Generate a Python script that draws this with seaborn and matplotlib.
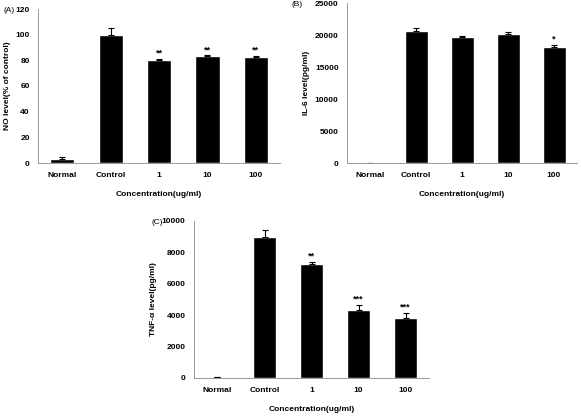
import numpy as np
import pandas as pd
import matplotlib
matplotlib.use("Agg")
import matplotlib.pyplot as plt
import seaborn as sns

categories = ["Normal", "Control", "1", "10", "100"]

no_values = [3, 100, 80.5, 83, 82.5]
no_errors = [2, 5, 0.6, 0.8, 0.6]
no_stars = ["", "", "**", "**", "**"]

il6_values = [0, 20600, 19750, 20100, 18100]
il6_errors = [0, 500, 150, 300, 300]
il6_stars = ["", "", "", "", "*"]

tnf_values = [50, 9000, 7250, 4350, 3800]
tnf_errors = [30, 450, 150, 300, 330]
tnf_stars = ["", "", "**", "***", "***"]

sns.set_theme(style="white")
plt.rcParams['font.family'] = ['Liberation Sans', 'DejaVu Sans']
plt.rcParams['font.weight'] = 'bold'
plt.rcParams['text.color'] = 'black'
plt.rcParams['axes.labelcolor'] = 'black'

W, H = 581, 416
fig = plt.figure(figsize=(W / 100, H / 100), dpi=100)
FS = 6


def px_axes(left, top, right, bottom):
    return fig.add_axes([left / W, 1 - bottom / H, (right - left) / W, (bottom - top) / H])


def panel(ax, values, errors, stars, ylabel, ymax, ystep):
    df = pd.DataFrame({"cat": categories, "val": values})
    sns.barplot(data=df, x="cat", y="val", order=categories, color="black",
                width=0.5, errorbar=None, ax=ax, saturation=1)
    xs = np.arange(len(categories))
    ax.errorbar(xs, values, yerr=[np.zeros(len(values)), errors], fmt="none",
                ecolor="black", elinewidth=0.8, capsize=2, capthick=0.8)
    for x, v, e, s in zip(xs, values, errors, stars):
        if s:
            ax.annotate(s, (x, v + e), xytext=(0, 1.0), textcoords="offset points",
                        ha="center", va="bottom", fontsize=6.5, fontweight="bold",
                        color="black")
    ax.set_xlim(-0.5, len(categories) - 0.5)
    ax.set_ylim(0, ymax)
    ax.set_yticks(np.arange(0, ymax + 1, ystep))
    ax.set_xticks(np.arange(-0.5, len(categories), 1.0), minor=False)
    ax.set_xticks(xs, minor=True)
    ax.set_xticklabels([""] * (len(categories) + 1))
    ax.set_xticklabels(categories, minor=True)
    ax.tick_params(axis="x", which="major", length=3, width=0.6, color="#999999", direction="out")
    ax.tick_params(axis="x", which="minor", length=0, pad=6.5, labelsize=FS, labelcolor="black")
    ax.tick_params(axis="y", length=3, width=0.6, color="#999999", direction="out",
                   labelsize=FS, pad=3, labelcolor="black")
    for lab in ax.get_xticklabels(minor=True) + ax.get_yticklabels():
        lab.set_fontweight("bold")
    sns.despine(ax=ax)
    for sp in ("left", "bottom"):
        ax.spines[sp].set_color("#999999")
        ax.spines[sp].set_linewidth(0.7)
    ax.set_xlabel("Concentration(ug/ml)", fontsize=FS, fontweight="bold", labelpad=8.5)
    ax.set_ylabel(ylabel, fontsize=FS, fontweight="bold", labelpad=3.5)
    return ax


axA = px_axes(38, 9, 280, 163)
panel(axA, no_values, no_errors, no_stars, "NO level(% of control)", 120, 20)
fig.text(3 / W, 1 - 10 / H, "(A)", fontsize=FS, ha="left", va="center", fontweight="normal")

axB = px_axes(347, 3, 577, 163)
panel(axB, il6_values, il6_errors, il6_stars, "IL-6 level(pg/ml)", 25000, 5000)
fig.text(292 / W, 1 - 5 / H, "(B)", fontsize=FS, ha="left", va="center", fontweight="normal")

axC = px_axes(194, 221, 429, 378)
panel(axC, tnf_values, tnf_errors, tnf_stars, "TNF-α level(pg/ml)", 10000, 2000)
fig.text(151 / W, 1 - 222 / H, "(C)", fontsize=FS, ha="left", va="center", fontweight="normal")

fig.savefig("out.png", dpi=100, facecolor="white")
